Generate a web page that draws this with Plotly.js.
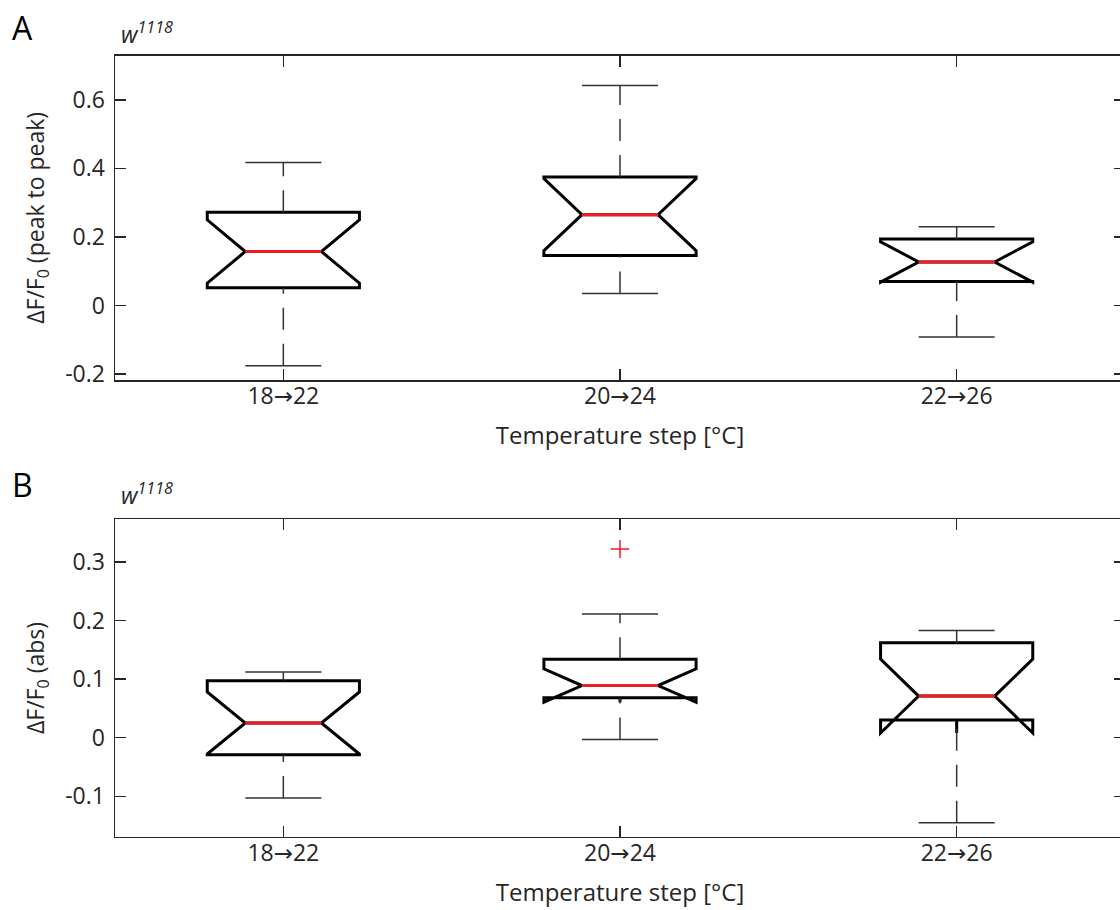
<!DOCTYPE html>
<html>
<head>
<meta charset="utf-8">
<script src="https://cdn.plot.ly/plotly-3.0.1.min.js"></script>
<style>
  html, body { margin: 0; padding: 0; overflow: hidden; background: #fff; }
  #chart { width: 1125px; height: 910px; }
</style>
</head>
<body>
<div id="chart"></div>
<script>
// ---- data ----
var categories = ['18\u219222', '20\u219224', '22\u219226'];

// Panel A: dF/F0 (peak to peak)
var A_q1      = [0.052, 0.146, 0.070];
var A_median  = [0.1575, 0.265, 0.127];
var A_q3      = [0.272, 0.375, 0.194];
var A_notch   = [0.0925, 0.105, 0.059];
var A_lower   = [-0.176, 0.035, -0.092];
var A_upper   = [0.417, 0.642, 0.230];
var A_outX    = [];
var A_outY    = [];

// Panel B: dF/F0 (abs)
var B_q1      = [-0.029, 0.068, 0.030];
var B_median  = [0.025, 0.089, 0.071];
var B_q3      = [0.097, 0.134, 0.162];
var B_notch   = [0.053, 0.0285, 0.063];
var B_lower   = [-0.103, -0.003, -0.145];
var B_upper   = [0.112, 0.211, 0.183];
var B_outX    = ['20\u219224'];
var B_outY    = [0.322];

var A_ticks = [-0.2, 0, 0.2, 0.4, 0.6];
var A_tickText = ['-0.2', '0', '0.2', '0.4', '0.6'];
var B_ticks = [-0.1, 0, 0.1, 0.2, 0.3];
var B_tickText = ['-0.1', '0', '0.1', '0.2', '0.3'];

// ---- styling ----
var BOX_W = 0.452;
var NOTCH_W = 0.25;
var CAP_HALF = BOX_W * 0.25;
var MED_HALF = BOX_W / 2 * (1 - 2 * NOTCH_W);
var FONT = 'Open Sans, Noto Sans, sans-serif';
var TXT = '#262626';
var AX = '#262626';

var pos = categories.map(function (c, i) { return i + 1; });
// tick labels: draw the arrow with a font that has a long arrow glyph
var catLabels = categories.map(function (c) {
  return c.replace('\u2192', '<span style="font-family:DejaVu Sans;">\u2192</span>');
});

function panelTraces(q1, med, q3, notch, lower, upper, outX, outY, xa, ya) {
  var tr = [];
  tr.push({
    type: 'box', xaxis: xa, yaxis: ya,
    x: pos, q1: q1, median: med, q3: q3,
    lowerfence: q1, upperfence: q3,
    notchspan: notch, notched: true, notchwidth: NOTCH_W,
    width: BOX_W, whiskerwidth: 0, boxpoints: false,
    fillcolor: 'rgba(0,0,0,0)',
    line: { color: '#000000', width: 3 },
    hoverinfo: 'skip', showlegend: false
  });
  // whiskers (dashed), drawn from the low value upward
  for (var i = 0; i < pos.length; i++) {
    tr.push({
      type: 'scatter', mode: 'lines', xaxis: xa, yaxis: ya,
      x: [pos[i], pos[i]], y: [lower[i], q1[i]],
      line: { color: '#333333', width: 1.5, dash: '22px,14px' },
      hoverinfo: 'skip', showlegend: false
    });
    tr.push({
      type: 'scatter', mode: 'lines', xaxis: xa, yaxis: ya,
      x: [pos[i], pos[i]], y: [q3[i], upper[i]],
      line: { color: '#333333', width: 1.5, dash: '22px,14px' },
      hoverinfo: 'skip', showlegend: false
    });
  }
  // caps
  var cx = [], cy = [];
  for (var j = 0; j < pos.length; j++) {
    cx.push(pos[j] - CAP_HALF, pos[j] + CAP_HALF, null, pos[j] - CAP_HALF, pos[j] + CAP_HALF, null);
    cy.push(lower[j], lower[j], null, upper[j], upper[j], null);
  }
  tr.push({
    type: 'scatter', mode: 'lines', xaxis: xa, yaxis: ya,
    x: cx, y: cy, connectgaps: false,
    line: { color: '#333333', width: 1.5 },
    hoverinfo: 'skip', showlegend: false
  });
  // red medians
  var mx = [], my = [];
  for (var k = 0; k < pos.length; k++) {
    mx.push(pos[k] - MED_HALF, pos[k] + MED_HALF, null);
    my.push(med[k], med[k], null);
  }
  tr.push({
    type: 'scatter', mode: 'lines', xaxis: xa, yaxis: ya,
    x: mx, y: my, connectgaps: false,
    line: { color: '#ee1c25', width: 3 },
    hoverinfo: 'skip', showlegend: false
  });
  // outliers
  if (outX.length) {
    tr.push({
      type: 'scatter', mode: 'markers', xaxis: xa, yaxis: ya,
      x: outX.map(function (c) { return categories.indexOf(c) + 1; }), y: outY,
      marker: { symbol: 'cross-thin', size: 13, line: { color: '#ee1c25', width: 1.5 } },
      hoverinfo: 'skip', showlegend: false
    });
  }
  return tr;
}

var data = []
  .concat(panelTraces(A_q1, A_median, A_q3, A_notch, A_lower, A_upper, A_outX, A_outY, 'x', 'y'))
  .concat(panelTraces(B_q1, B_median, B_q3, B_notch, B_lower, B_upper, B_outX, B_outY, 'x2', 'y2'));

var W = 1125, H = 910;
var xDomain = [115 / W, 1];

function xAxis(anchor) {
  return {
    anchor: anchor, domain: xDomain, range: [0.5, 3.5],
    tickmode: 'array', tickvals: pos, ticktext: catLabels,
    ticks: 'inside', ticklen: 11, tickwidth: 1.5, tickcolor: AX,
    showline: true, linecolor: AX, linewidth: 1.5, mirror: 'ticks',
    showgrid: false, zeroline: false,
    tickfont: { family: FONT, size: 23, color: TXT },
    ticklabelstandoff: -5,
    title: { text: 'Temperature step [\u00b0C]', font: { family: FONT, size: 24, color: TXT }, standoff: 17 }
  };
}
function yAxis(anchor, domain, range, tv, tt, title) {
  return {
    anchor: anchor, domain: domain, range: range,
    tickmode: 'array', tickvals: tv, ticktext: tt,
    ticks: 'inside', ticklen: 11, tickwidth: 1.5, tickcolor: AX,
    showline: true, linecolor: AX, linewidth: 1.5, mirror: 'ticks',
    showgrid: false, zeroline: false,
    tickfont: { family: FONT, size: 23, color: TXT },
    ticklabelstandoff: 4,
    title: { text: title, font: { family: FONT, size: 23, color: TXT }, standoff: 14 }
  };
}

var layout = {
  width: W, height: H,
  margin: { l: 0, r: 0, t: 0, b: 0 },
  paper_bgcolor: '#ffffff', plot_bgcolor: '#ffffff',
  showlegend: false,
  xaxis: xAxis('y'),
  yaxis: yAxis('x', [1 - 380 / H, 1 - 55.7 / H], [-0.2175, 0.729], A_ticks, A_tickText,
               '\u0394F/F<sub>0</sub> (peak to peak)'),
  xaxis2: xAxis('y2'),
  yaxis2: yAxis('x2', [1 - 836.7 / H, 1 - 519.3 / H], [-0.169, 0.3727], B_ticks, B_tickText,
                '\u0394F/F<sub>0</sub> (abs)'),
  annotations: [
    { text: 'A', xref: 'paper', yref: 'paper', x: 22 / W, y: 1 - 27 / H, xanchor: 'center', yanchor: 'middle',
      showarrow: false, font: { family: FONT, size: 32, color: '#000' } },
    { text: 'B', xref: 'paper', yref: 'paper', x: 22 / W, y: 1 - 484 / H, xanchor: 'center', yanchor: 'middle',
      showarrow: false, font: { family: FONT, size: 32, color: '#000' } },
    { text: '<i>w</i><sup><i>1118</i></sup>', xref: 'paper', yref: 'paper', x: 119 / W, y: 1 - 33 / H,
      xanchor: 'left', yanchor: 'middle', showarrow: false, font: { family: FONT, size: 23, color: TXT } },
    { text: '<i>w</i><sup><i>1118</i></sup>', xref: 'paper', yref: 'paper', x: 119 / W, y: 1 - 494 / H,
      xanchor: 'left', yanchor: 'middle', showarrow: false, font: { family: FONT, size: 23, color: TXT } }
  ]
};

Plotly.newPlot('chart', data, layout, { staticPlot: true, displayModeBar: false });
</script>
</body>
</html>
